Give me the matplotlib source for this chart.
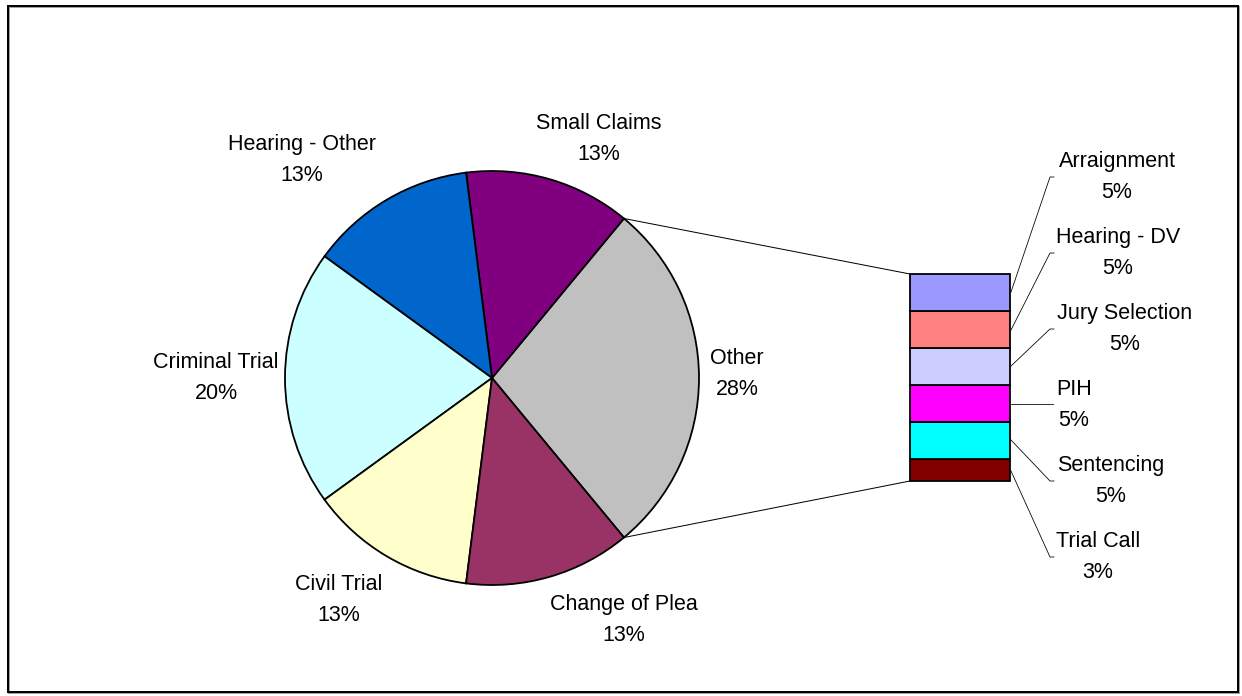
import matplotlib
matplotlib.use("Agg")
import matplotlib.pyplot as plt
from matplotlib.patches import Rectangle
import numpy as np

plt.rcParams['font.family'] = ['Liberation Sans', 'DejaVu Sans']

# Main pie: "Other" is broken out into the bar on the right
pie_labels = ["Other", "Small Claims", "Hearing - Other", "Criminal Trial",
              "Civil Trial", "Change of Plea"]
pie_values = [28, 13, 13, 20, 13, 13]
pie_colors = ["#C0C0C0", "#800080", "#0066CC", "#CCFFFF", "#FFFFCC", "#993366"]

# Breakdown of "Other" (top to bottom)
bar_labels = ["Arraignment", "Hearing - DV", "Jury Selection", "PIH",
              "Sentencing", "Trial Call"]
bar_values = [5, 5, 5, 5, 5, 3]
bar_colors = ["#9999FF", "#FF8080", "#CCCCFF", "#FF00FF", "#00FFFF", "#800000"]

W, H = 1242, 696
fig = plt.figure(figsize=(W / 100, H / 100), dpi=100)
ax = fig.add_axes([0, 0, 1, 1])

px = 0.72  # one pixel in points
FS = 15.5
LS = 1.62
DY = 2  # nudge labels down a little

# pie
cx, cy, r = 492, 318, 207
start = -pie_values[0] / sum(pie_values) * 180
wedges, _ = ax.pie(pie_values, colors=pie_colors, center=(cx, cy), radius=r,
                   startangle=start, counterclock=True,
                   wedgeprops=dict(edgecolor="black", linewidth=1.8 * px),
                   frame=True)
ax.set_xlim(0, W)
ax.set_ylim(0, H)
ax.axis("off")

pie_label_pos = {
    "Other": (737, 372),
    "Small Claims": (599, 137),
    "Hearing - Other": (302, 158),
    "Criminal Trial": (216, 376),
    "Civil Trial": (339, 598),
    "Change of Plea": (624, 618),
}
for lab, val in zip(pie_labels, pie_values):
    x, y = pie_label_pos[lab]
    ax.text(x, H - y - DY, f"{lab}\n{val}%", ha="center", va="center",
            multialignment="center", fontsize=FS, linespacing=LS)

# stacked bar for the "Other" breakdown
bx, bw = 960, 100
bar_total_h = 207
scale = bar_total_h / sum(bar_values)
bottom_y = cy - bar_total_h / 2 + 0.5
vals_bottom_up = bar_values[::-1]
cols_bottom_up = bar_colors[::-1]
heights = [v * scale for v in vals_bottom_up]
bottoms = np.concatenate([[bottom_y], bottom_y + np.cumsum(heights)[:-1]])
ax.bar([bx] * len(heights), heights, width=bw, bottom=bottoms,
       color=cols_bottom_up, edgecolor="black", linewidth=1.8 * px, zorder=3)
top_y = bottom_y + bar_total_h

# connector lines between pie and bar
a = np.deg2rad(pie_values[0] / sum(pie_values) * 180)
ax.plot([cx + r * np.cos(a), bx - bw / 2], [cy + r * np.sin(a), top_y],
        color="black", lw=1 * px, zorder=2)
ax.plot([cx + r * np.cos(-a), bx - bw / 2], [cy + r * np.sin(-a), bottom_y],
        color="black", lw=1 * px, zorder=2)

# bar labels with leader lines
bar_label_pos = {
    "Arraignment": (1117, 175),
    "Hearing - DV": (1118, 251),
    "Jury Selection": (1125, 327),
    "PIH": (1074, 403),
    "Sentencing": (1111, 479),
    "Trial Call": (1098, 555),
}
leaders = {
    "Arraignment": [(1011, 292), (1050, 177), (1054, 177)],
    "Hearing - DV": [(1011, 330), (1050, 253), (1054, 253)],
    "Jury Selection": [(1011, 366), (1050, 329), (1054, 329)],
    "PIH": [(1011, 404), (1053, 404)],
    "Sentencing": [(1011, 440), (1050, 481), (1054, 481)],
    "Trial Call": [(1011, 471), (1050, 557), (1054, 557)],
}
for lab, val in zip(bar_labels, bar_values):
    x, y = bar_label_pos[lab]
    ax.text(x, H - y - DY, f"{lab}\n{val}%", ha="center", va="center",
            multialignment="center", fontsize=FS, linespacing=LS)
    pts = np.array(leaders[lab], dtype=float)
    ax.plot(pts[:, 0], H - pts[:, 1], color="black", lw=0.8 * px, zorder=2)

# chart-area frame with a faint shadow
fig.patches.append(Rectangle((9 / W, 1 - 693 / H), 1230 / W, 686 / H,
                             transform=fig.transFigure, fill=False,
                             edgecolor="#A0A0A0", linewidth=2 * px))
fig.patches.append(Rectangle((8 / W, 1 - 692 / H), 1230 / W, 686 / H,
                             transform=fig.transFigure, fill=False,
                             edgecolor="black", linewidth=2 * px))

fig.savefig("out.png", dpi=100, facecolor="white")
